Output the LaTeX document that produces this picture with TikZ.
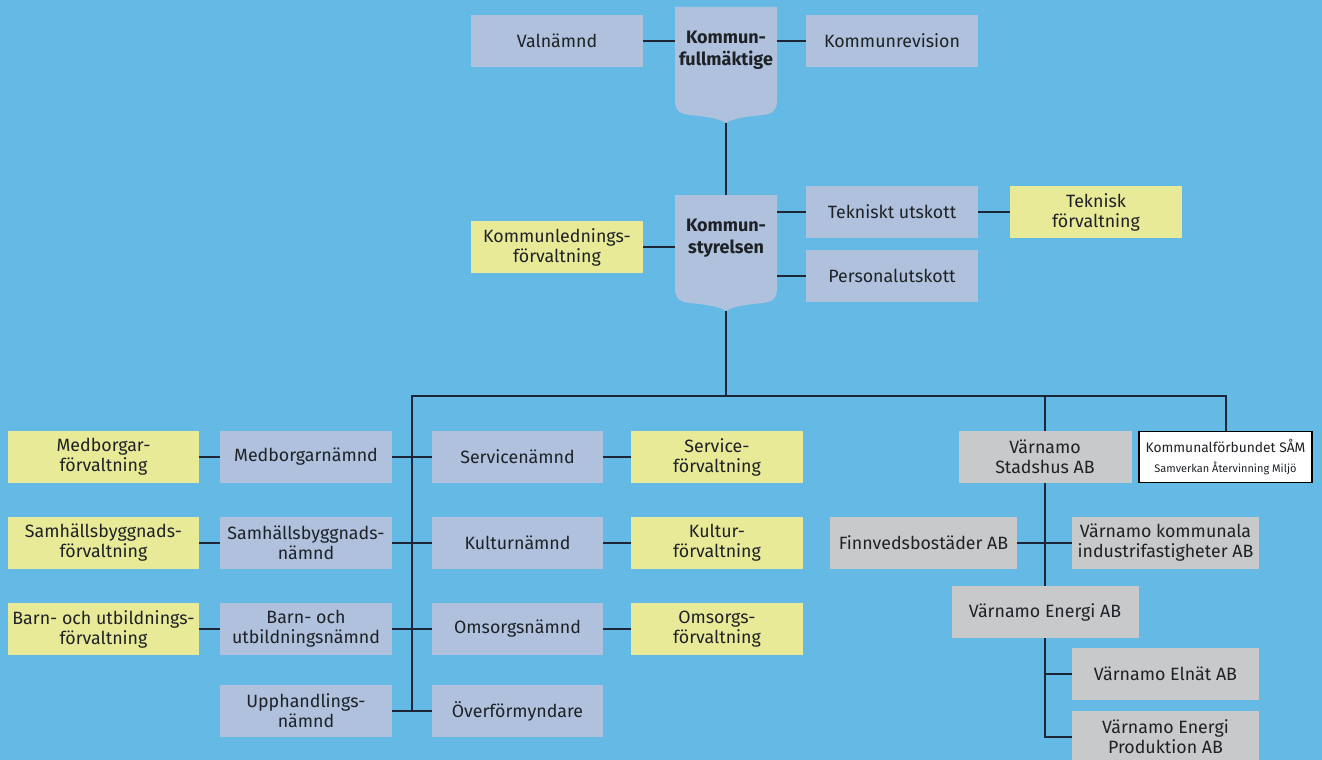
\documentclass[tikz,border=0pt]{standalone}
\usepackage{fontspec}
\setmainfont{Fira Sans}
\definecolor{himmel}{HTML}{65BAE5}
\definecolor{lavendel}{HTML}{AFC1DC}
\definecolor{gul}{HTML}{E8EA98}
\definecolor{gra}{HTML}{C8C9CB}
\definecolor{linje}{HTML}{1B2636}
\definecolor{skrift}{HTML}{1E2226}

\begin{document}
\begin{tikzpicture}[x=1pt,y=-1pt,
  box/.style={fill=lavendel,minimum width=172pt,minimum height=52pt,inner sep=0pt,align=center,text=skrift,font=\fontsize{17.8}{20}\selectfont},
  gulbox/.style={box,fill=gul},
  grabox/.style={box,fill=gra,minimum width=187pt},
  rubrik/.style={box,fill=none,minimum width=101pt,font=\fontsize{18}{22}\selectfont\bfseries},
  forb/.style={draw=linje,line width=2pt}]
\fill[himmel] (0,0) rectangle (1322,760);
\clip (0,0) rectangle (1322,760);
\foreach \namn/\y in {kf/7,ks/195}{
  \fill[lavendel] (675,\y) -- (777,\y) -- (777,\y+93) .. controls (777,\y+104) and (772,\y+107) .. (762,\y+108) .. controls (742,\y+110) and (732,\y+112) .. (726,\y+116) .. controls (720,\y+112) and (710,\y+110) .. (690,\y+108) .. controls (680,\y+107) and (675,\y+104) .. (675,\y+93) -- cycle;
  \coordinate (\namn-topp) at (726,\y);
  \coordinate (\namn-spets) at (726,\y+116);
}
\node[rubrik] (kf) at (726,50) {Kommun-\\fullmäktige};
\node[box] (val) at (557,41) {Valnämnd};
\node[box] (krev) at (892,41) {Kommunrevision};
\node[rubrik] (ks) at (726,238) {Kommun-\\styrelsen};
\node[gulbox] (kled) at (557,247) {Kommunlednings-\\förvaltning};
\node[box] (tek) at (892,212) {Tekniskt utskott};
\node[gulbox] (tekf) at (1096,212) {Teknisk\\förvaltning};
\node[box] (pers) at (892,276) {Personalutskott};
\node[gulbox,minimum width=191pt] (medf) at (103.5,457) {Medborgar-\\förvaltning};
\node[box] (medn) at (306,457) {Medborgarnämnd};
\node[gulbox,minimum width=191pt] (samf) at (103.5,543) {Samhällsbyggnads-\\förvaltning};
\node[box] (samn) at (306,543) {Samhällsbyggnads-\\nämnd};
\node[gulbox,minimum width=191pt] (barnf) at (103.5,629) {Barn- och utbildnings-\\förvaltning};
\node[box] (barnn) at (306,629) {Barn- och\\utbildningsnämnd};
\node[box] (upph) at (306,711) {Upphandlings-\\nämnd};
\node[box,minimum width=171pt] (serv) at (517.5,457) {Servicenämnd};
\node[gulbox] (servf) at (717,457) {Service-\\förvaltning};
\node[box,minimum width=171pt] (kult) at (517.5,543) {Kulturnämnd};
\node[gulbox] (kultf) at (717,543) {Kultur-\\förvaltning};
\node[box,minimum width=171pt] (oms) at (517.5,629) {Omsorgsnämnd};
\node[gulbox] (omsf) at (717,629) {Omsorgs-\\förvaltning};
\node[box,minimum width=171pt] (overf) at (517.5,711) {Överförmyndare};
\node[grabox,minimum width=173pt] (stad) at (1045,457) {Värnamo\\Stadshus AB};
\node[box,fill=white,draw=black,line width=1.5pt,minimum width=173pt,minimum height=51pt] (sam) at (1225.5,457) {\fontsize{13.8}{17}\selectfont Kommunalförbundet SÅM\\\fontsize{11}{14}\selectfont Samverkan Återvinning Miljö};
\node[grabox] (finn) at (923.5,543) {Finnvedsbostäder AB};
\node[grabox] (ind) at (1165.5,543) {Värnamo kommunala\\industrifastigheter AB};
\node[grabox] (energi) at (1045,612) {Värnamo Energi AB};
\node[grabox] (elnat) at (1165.5,674) {Värnamo Elnät AB};
\node[grabox] (prod) at (1165.5,737) {Värnamo Energi\\Produktion AB};
\coordinate (vtopp) at (412,396);
\coordinate (vbotten) at (412,711);
\draw[forb] (val) -- (val -| kf.west);
\draw[forb] (krev) -- (krev -| kf.east);
\draw[forb] (kf-spets) -- (ks-topp);
\draw[forb] (kled) -- (kled -| ks.west);
\draw[forb] (tek) -- (tek -| ks.east);
\draw[forb] (pers) -- (pers -| ks.east);
\draw[forb] (tek) -- (tekf);
\draw[forb] (ks-spets) -- (ks-spets |- vtopp);
\draw[forb] (vbotten) -- (vtopp) -- (vtopp -| sam.north) -- (sam.north);
\draw[forb] (stad.north) -- (stad.north |- vtopp);
\draw[forb] (medf) -- (medn);
\draw[forb] (medn) -- (serv);
\draw[forb] (serv) -- (servf);
\draw[forb] (samf) -- (samn);
\draw[forb] (samn) -- (kult);
\draw[forb] (kult) -- (kultf);
\draw[forb] (barnf) -- (barnn);
\draw[forb] (barnn) -- (oms);
\draw[forb] (oms) -- (omsf);
\draw[forb] (upph) -- (overf);
\draw[forb] (stad.south) -- (energi.north);
\draw[forb] (finn) -- (ind);
\draw[forb] (energi.south) -- (energi.south |- prod) -- (prod.west);
\draw[forb] (elnat.west) -- (elnat.west -| energi.south);
\end{tikzpicture}
\end{document}
